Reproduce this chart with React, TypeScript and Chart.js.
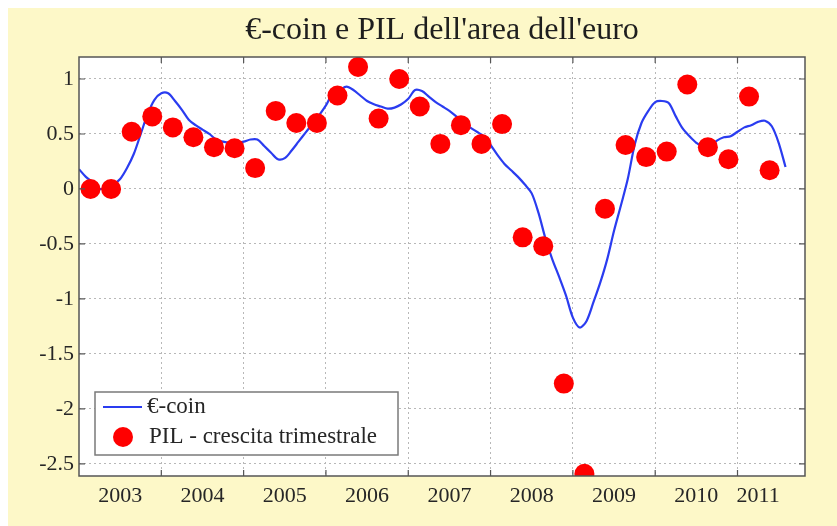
import React, { useEffect, useRef } from 'react';
import { Chart, registerables } from 'chart.js';

Chart.register(...registerables);

// ---------- data ----------
const TITLE = "€-coin e PIL dell'area dell'euro";
const LINE_LABEL = '€-coin';
const DOT_LABEL = 'PIL - crescita trimestrale';

const yearLabels = ['2003', '2004', '2005', '2006', '2007', '2008', '2009', '2010', '2011'];
const yTickValues = [1, 0.5, 0, -0.5, -1, -1.5, -2, -2.5];
const gridYears = [2004, 2005, 2006, 2007, 2008, 2009, 2010, 2011];

// €-coin, monthly, from January 2003
const coinStart = 2003;
const coinMonthly = [
  0.18, 0.11, 0.06, 0.0, 0.01, 0.04, 0.09, 0.19, 0.32, 0.5, 0.68, 0.81,
  0.87, 0.87, 0.8, 0.72, 0.63, 0.58, 0.54, 0.5, 0.45, 0.43, 0.42, 0.42,
  0.43, 0.45, 0.45, 0.39, 0.33, 0.27, 0.28, 0.35, 0.43, 0.51, 0.59, 0.67,
  0.76, 0.87, 0.9, 0.93, 0.9, 0.85, 0.8, 0.77, 0.75, 0.73, 0.74, 0.77,
  0.82, 0.9, 0.89, 0.84, 0.79, 0.75, 0.71, 0.66, 0.61, 0.56, 0.52, 0.48,
  0.4, 0.31, 0.23, 0.17, 0.11, 0.04, -0.04, -0.22, -0.45, -0.64, -0.8, -0.97,
  -1.17, -1.26, -1.2, -1.03, -0.85, -0.64, -0.38, -0.15, 0.09, 0.4, 0.6, 0.71,
  0.79, 0.8, 0.78, 0.66, 0.55, 0.48, 0.42, 0.38, 0.39, 0.44, 0.47, 0.48,
  0.52, 0.56, 0.58, 0.61, 0.62, 0.57, 0.42, 0.2,
];

// PIL quarterly growth, from 2003 Q1
const pilStart = 2003;
const pilQuarterly = [
  0.0, 0.0, 0.52, 0.66,
  0.56, 0.47, 0.38, 0.37,
  0.19, 0.71, 0.6, 0.6,
  0.85, 1.11, 0.64, 1.0,
  0.75, 0.41, 0.58, 0.41,
  0.59, -0.44, -0.52, -1.77,
  -2.59, -0.18, 0.4, 0.29,
  0.34, 0.95, 0.38, 0.27,
  0.84, 0.17,
];

// ---------- styles ----------
const BG = '#fdf8c8';
const GRID = '#b8b8b8';
const TEXT = '#262626';
const SERIF = '"Liberation Serif", "Times New Roman", serif';
const LINE_COLOR = '#2a3cf0';
const DOT_COLOR = '#ff0000';

const X_MIN = 2003;
const X_MAX = 2011.82;
const Y_MIN = -2.61;
const Y_MAX = 1.2;

const labelPositions = yearLabels.map((y, i) =>
  i === yearLabels.length - 1 ? Number(y) + 0.25 : Number(y) + 0.5
);
const xTicks = [
  ...gridYears.map((v) => ({ value: v, label: '' })),
  ...labelPositions.map((v, i) => ({ value: v, label: yearLabels[i] })),
].sort((a, b) => a.value - b.value);

const framePlugin = {
  id: 'framePlugin',
  beforeDraw(chart: any) {
    const { ctx, width, height, chartArea: a } = chart;
    ctx.save();
    ctx.fillStyle = BG;
    ctx.fillRect(0, 0, width, height);
    ctx.fillStyle = '#ffffff';
    ctx.fillRect(a.left, a.top, a.right - a.left, a.bottom - a.top);
    ctx.fillStyle = '#1e1e1e';
    ctx.font = `32px ${SERIF}`;
    ctx.textAlign = 'center';
    ctx.textBaseline = 'alphabetic';
    ctx.fillText(TITLE, (a.left + a.right) / 2, 31);
    ctx.restore();
  },
  afterDraw(chart: any) {
    const { ctx, chartArea: a, scales } = chart;
    ctx.save();
    // box
    ctx.strokeStyle = '#555555';
    ctx.lineWidth = 1.5;
    ctx.strokeRect(a.left, a.top, a.right - a.left, a.bottom - a.top);
    // inner tick marks
    ctx.lineWidth = 1.2;
    const tl = 6;
    ctx.beginPath();
    yTickValues.forEach((v) => {
      const y = scales.y.getPixelForValue(v);
      ctx.moveTo(a.left, y);
      ctx.lineTo(a.left + tl, y);
      ctx.moveTo(a.right, y);
      ctx.lineTo(a.right - tl, y);
    });
    gridYears.forEach((v) => {
      const x = scales.x.getPixelForValue(v);
      ctx.moveTo(x, a.bottom);
      ctx.lineTo(x, a.bottom - tl);
      ctx.moveTo(x, a.top);
      ctx.lineTo(x, a.top + tl);
    });
    ctx.stroke();

    // legend
    const lx = a.left + 16;
    const ly = a.top + 335;
    const lw = 303;
    const lh = 63;
    ctx.fillStyle = '#ffffff';
    ctx.fillRect(lx, ly, lw, lh);
    ctx.strokeStyle = '#7a7a7a';
    ctx.lineWidth = 1.5;
    ctx.strokeRect(lx, ly, lw, lh);
    ctx.strokeStyle = LINE_COLOR;
    ctx.lineWidth = 2.2;
    ctx.beginPath();
    ctx.moveTo(lx + 8, ly + 15);
    ctx.lineTo(lx + 47, ly + 15);
    ctx.stroke();
    ctx.fillStyle = DOT_COLOR;
    ctx.beginPath();
    ctx.arc(lx + 28, ly + 45, 10, 0, Math.PI * 2);
    ctx.fill();
    ctx.fillStyle = TEXT;
    ctx.font = `23px ${SERIF}`;
    ctx.textAlign = 'left';
    ctx.textBaseline = 'middle';
    ctx.fillText(LINE_LABEL, lx + 52, ly + 15);
    ctx.fillText(DOT_LABEL, lx + 54, ly + 45);
    ctx.restore();
  },
};

export default function App() {
  const ref = useRef<HTMLCanvasElement | null>(null);

  useEffect(() => {
    if (!ref.current) return;
    const lineData = coinMonthly.map((v, i) => ({ x: coinStart + i / 12, y: v }));
    const dotData = pilQuarterly.map((v, i) => ({ x: pilStart + i * 0.25 + 0.14, y: v }));
    const font = { family: SERIF, size: 22 };

    const chart = new Chart(ref.current, {
      type: 'scatter',
      data: {
        datasets: [
          {
            label: DOT_LABEL,
            data: dotData,
            order: 1,
            backgroundColor: DOT_COLOR,
            borderColor: DOT_COLOR,
            pointRadius: 10,
            pointHoverRadius: 10,
            borderWidth: 0,
          },
          {
            label: LINE_LABEL,
            data: lineData,
            order: 2,
            showLine: true,
            borderColor: LINE_COLOR,
            backgroundColor: LINE_COLOR,
            borderWidth: 2.2,
            pointRadius: 0,
            tension: 0.3,
          } as any,
        ],
      },
      options: {
        animation: false,
        responsive: false,
        devicePixelRatio: 1,
        layout: { padding: { left: 0, right: 32, top: 49, bottom: 0 } },
        plugins: { legend: { display: false }, tooltip: { enabled: false }, title: { display: false } },
        scales: {
          x: {
            type: 'linear',
            min: X_MIN,
            max: X_MAX,
            afterBuildTicks: (s: any) => {
              s.ticks = xTicks.map((t) => ({ value: t.value }));
            },
            afterFit: (s: any) => {
              s.height = 50;
            },
            grid: {
              color: (c: any) =>
                c.tick && Number.isInteger(c.tick.value) ? GRID : 'rgba(0,0,0,0)',
              drawTicks: false,
              lineWidth: 1,
            },
            border: { display: false, dash: [2, 3] },
            ticks: {
              autoSkip: false,
              maxRotation: 0,
              minRotation: 0,
              padding: 7,
              color: TEXT,
              font,
              callback: (_v: any, i: number) => xTicks[i]?.label ?? '',
            },
          },
          y: {
            type: 'linear',
            min: Y_MIN,
            max: Y_MAX,
            afterBuildTicks: (s: any) => {
              s.ticks = yTickValues.map((v) => ({ value: v }));
            },
            afterFit: (s: any) => {
              s.width = 71;
            },
            grid: { color: GRID, drawTicks: false, lineWidth: 1 },
            border: { display: false, dash: [2, 3] },
            ticks: {
              padding: 5,
              color: TEXT,
              font,
              callback: (v: any) => String(v),
            },
          },
        },
      },
      plugins: [framePlugin],
    } as any);
    return () => chart.destroy();
  }, []);

  return (
    <div style={{ position: 'fixed', left: 8, top: 8, width: 829, height: 518 }}>
      <canvas ref={ref} width={829} height={518} style={{ width: 829, height: 518, display: 'block' }} />
    </div>
  );
}
